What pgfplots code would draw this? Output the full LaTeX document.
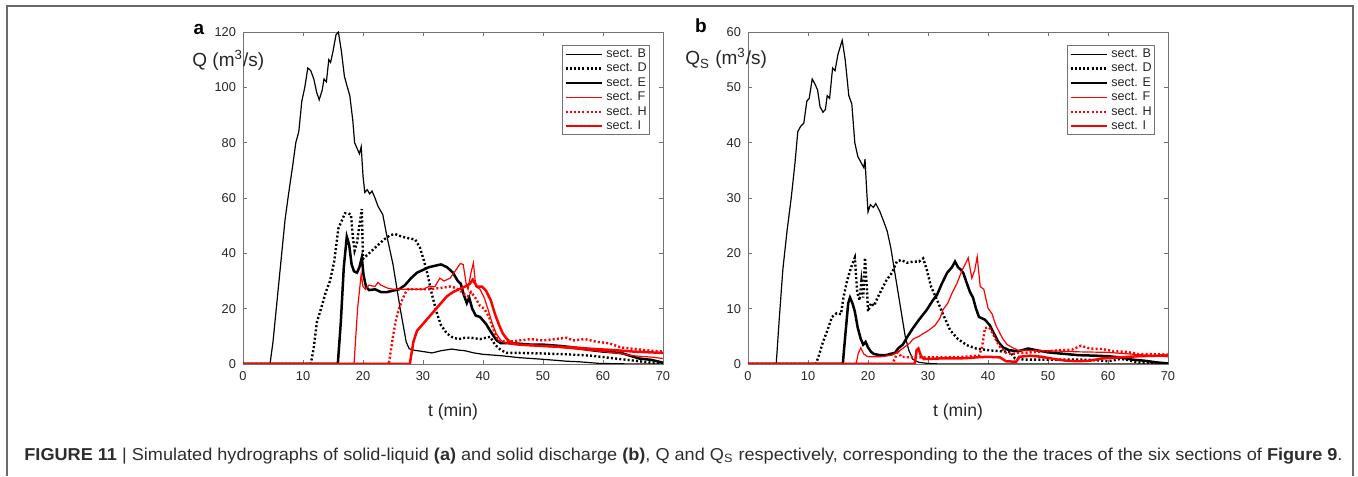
\documentclass[border=0pt]{standalone}
\usepackage{fontspec}
\setmainfont{Liberation Sans}
\usepackage{graphicx}
\usepackage{pgfplots}
\pgfplotsset{compat=1.18}
\definecolor{axgray}{RGB}{38,38,38}
\definecolor{framegray}{RGB}{105,105,105}
\definecolor{capgray}{RGB}{45,45,45}
\definecolor{mred}{RGB}{255,0,0}

\pgfplotsset{
  hydro/.style={
    scale only axis, width=210pt, height=166pt,
    xmin=0, xmax=70, ymin=0,
    xtick={0,10,...,70},
    tick align=inside,
    axis line style={draw=black!55, line width=0.45pt},
    tick style={draw=black!55, line width=0.45pt},
    major tick length=2.2pt,
    tick label style={font=\fontsize{6.4}{7}\selectfont, text=axgray},
    /pgf/number format/assume math mode=true,
    xlabel={t (min)},
    xlabel style={font=\fontsize{8.8}{10}\selectfont, text=axgray, at={(axis description cs:0.5,-0.145)}, anchor=center},
    legend style={at={(1,1)}, anchor=north east, xshift=-6.5pt, yshift=-6.5pt,
      draw=black!55, line width=0.45pt, fill=white,
      font=\fontsize{6.3}{6.8}\selectfont, text=axgray,
      inner sep=0.8pt, row sep=0.1pt,
      nodes={inner sep=0.6pt, text height=4.6pt, text depth=1.3pt}},
    legend cell align=left,
    legend image code/.code={\draw[##1] (0pt,0pt) -- (18pt,0pt); \path (19.2pt,0pt);},
  },
  sB/.style={black, line width=0.6pt},
  sD/.style={black, line width=1.2pt, dash pattern=on 1pt off 1.1pt},
  sE/.style={black, line width=1.25pt},
  sF/.style={mred, line width=0.6pt},
  sH/.style={mred, line width=1.2pt, dash pattern=on 1pt off 1.1pt},
  sI/.style={mred, line width=1.25pt},
}

\begin{document}
\begin{tikzpicture}
\begin{scope}[x=0.5pt,y=0.5pt]
\path[use as bounding box] (0,0) rectangle (1358,476);
\draw[framegray, line width=0.7pt] (7,0) -- (7,470) -- (1353,470) -- (1353,0);
\end{scope}

% ---------------- panel a ----------------
\begin{axis}[hydro, at={(121.5pt,56pt)}, anchor=south west, ymax=120, ytick={0,20,...,120}]
\addplot[sB] coordinates {(0,0) (4.5,0) (5,8) (6,30) (7,52) (7.5,60) (8.3,72) (8.8,80) (9.3,84) (9.8,95) (10.3,100) (10.8,107) (11.3,106) (11.8,103) (12.3,98) (12.7,95.5) (13.2,99) (13.5,103) (13.9,102) (14.3,110) (14.6,109) (15.0,113) (15.5,119) (15.9,120) (16.4,113) (16.9,104) (17.4,100) (17.8,97) (18.3,88) (18.6,80) (19.1,77.5) (19.4,76) (19.7,78.5) (20.0,68) (20.3,62) (20.7,63) (21.1,61.5) (21.5,62.5) (22.0,60) (22.5,57) (23.3,54) (24.0,46) (24.6,40) (25.0,36) (25.6,28) (26.2,20) (26.7,14) (27.2,8) (27.7,5.5) (28.5,5) (30,4.5) (31.5,4) (33,4.8) (34.8,5.4) (36,5) (37,4.8) (38.5,4) (40,3.5) (43,3) (46,2.3) (50,1.7) (54,1) (56,0.8) (59.5,0.2) (65,0) (70,0)};
\addlegendentry{sect. B}
\addplot[sD] coordinates {(0,0) (11.3,0) (11.8,6) (12.3,15) (13,20) (13.8,26) (14.5,30) (15.2,37) (15.9,49) (16.5,52) (17,54.5) (17.5,54.5) (18,54) (18.3,46) (18.6,41) (19,44) (19.4,50) (19.8,56) (20.0,38) (20.5,39) (21.5,41) (22.5,43) (23.5,45) (24.5,46.5) (25.3,47) (26.5,46) (27.5,45.5) (28.7,45) (29.5,42) (30.2,37) (30.8,32) (31.5,25) (32.3,18.5) (33,14) (34,11) (35,9.5) (36,9) (37,9.5) (38,9.5) (39.5,9) (40.5,9.5) (41.2,9.8) (42,7) (43,5) (44,4) (46,4) (50,3.8) (54,3.5) (58,3) (60,2.5) (62,2) (64,1.5) (66,1) (68,0.5) (70,0.2)};
\addlegendentry{sect. D}
\addplot[sE] coordinates {(0,0) (15.8,0) (16.3,15) (16.8,35) (17.3,46) (17.7,43) (18.1,36) (18.5,33.5) (19.0,33) (19.4,35) (19.8,38.5) (20.1,32) (20.5,28) (21,26.7) (22,27) (23,26) (24,26) (25,26.5) (26,27) (27,28.5) (28,31) (29,33) (30,34) (31,35) (32,35.5) (33,36) (34,35) (35,33) (35.8,30) (36.3,29) (36.8,25) (37.3,22) (37.7,24) (38.2,20) (38.8,17.5) (39.5,17) (40.5,14.5) (41.2,12) (41.8,10) (42.3,8.5) (43,7.5) (45,7.5) (48,7) (50,7) (53,6.5) (55,6) (58,5) (60,4.5) (63,4) (64.5,3) (66,2) (68,1.5) (70,0.5)};
\addlegendentry{sect. E}
\addplot[sF] coordinates {(0,0) (18.5,0) (19.1,20) (19.7,32.5) (20.0,28) (20.4,27) (21,28.5) (22,28) (22.5,29.5) (23,28.5) (24,27.5) (25,27) (26,27) (27,27) (28,27) (29,27) (30,27) (31,28) (32,28) (32.8,31) (33.5,30) (34.5,31) (35.5,34) (36.2,36.3) (36.7,36) (37.2,29) (37.5,27) (38,33) (38.4,36.5) (38.8,28) (39.5,27) (40.2,24) (40.8,20) (41.5,15) (42.2,11) (43,8.5) (43.8,7.5) (45,7) (50,6.5) (55,5.5) (60,4.5) (62,4) (65,3) (68,2.5) (70,2)};
\addlegendentry{sect. F}
\addplot[sH] coordinates {(0,0) (24.3,0) (25,10) (25.5,16) (26,20) (26.5,23) (27,25.5) (27.5,27) (29,27) (31,27) (33,27.5) (34.5,28) (35.5,27.5) (36.5,26) (37,25) (37.5,24.5) (38,26) (38.7,24) (39.5,21) (40.2,20) (41,17) (41.8,12) (42.5,8.5) (44,8) (46,8.5) (48,9) (50,8.5) (52,9) (54,9.5) (55,8.5) (57,9) (59,8) (61,7.5) (63,6) (65,5.5) (67,5) (70,4.5)};
\addlegendentry{sect. H}
\addplot[sI] coordinates {(0,0) (27.8,0) (28.4,8) (29,12) (30,14.5) (31,17) (32,19.5) (33,22) (34,24.5) (35,26) (36,27) (37,28) (37.8,29) (38.3,30.5) (39,28) (39.8,28) (40.5,26.5) (41.3,23) (42,18) (42.7,14) (43.3,11) (44,9) (44.8,7.5) (46,7) (50,6.5) (55,6) (58,5.5) (62,5) (65,4.5) (68,4.2) (70,4)};
\addlegendentry{sect. I}
\end{axis}

% ---------------- panel b ----------------
\begin{axis}[hydro, at={(374pt,56pt)}, anchor=south west, ymax=60, ytick={0,10,...,60}]
\addplot[sB] coordinates {(0,0) (4.7,0) (5.2,8) (5.8,17) (6.5,24) (7.2,30) (7.8,36) (8.3,42) (8.8,43) (9.3,43.5) (9.8,47.5) (10.2,48) (10.7,51.5) (11.2,50.5) (11.6,49.5) (12.0,46.5) (12.5,45.5) (12.9,46) (13.2,48.5) (13.6,48) (14.1,53.5) (14.5,53) (15.0,56) (15.7,58.5) (16.2,55) (16.8,48.5) (17.3,47) (17.8,40) (18.3,37.5) (18.8,36.5) (19.3,35.5) (19.5,37) (19.8,31) (20.0,27.5) (20.4,28.8) (20.9,28.3) (21.3,29) (22,27.5) (22.7,25.5) (23.2,24) (23.8,21) (24.4,17) (25.0,13) (25.6,9) (26.2,5) (26.8,2.5) (27.5,0.8) (28.5,0.3) (30,0.1) (32,0) (70,0)};
\addlegendentry{sect. B}
\addplot[sD] coordinates {(0,0) (11.3,0) (11.8,1.5) (12.5,4) (13.2,6) (14,8.5) (14.8,9.2) (15.5,9) (15.9,12) (16.5,15) (17.2,17.5) (17.8,19.2) (18.2,13) (18.6,11.5) (18.9,15) (19.2,12) (19.5,19.2) (19.8,14) (20.0,9.5) (20.5,11) (21,10.5) (21.6,12) (22.3,13.5) (23,15) (24,16.5) (24.8,18.5) (25.5,18.8) (26.5,18.3) (27.5,18.5) (28.5,18.5) (29.2,19.1) (29.8,17) (30.5,14) (31.5,11.6) (32.5,9) (33.7,6.1) (35,4.5) (36.5,3.4) (38,2.8) (40,2.5) (42,2.3) (43.7,2.2) (44.5,1) (46,0.8) (50,0.8) (55,0.8) (58,0.7) (60,0.5) (62,0.9) (63,0.8) (65,0.3) (67,0.1) (70,0)};
\addlegendentry{sect. D}
\addplot[sE] coordinates {(0,0) (15.8,0) (16.2,5) (16.7,11) (17,12) (17.4,11) (17.8,9.5) (18.3,6.5) (18.8,4.5) (19.2,3.5) (19.6,4) (20,3) (20.5,2.2) (21,1.8) (22,1.6) (23,1.6) (24,1.9) (24.5,2) (25,2.8) (25.8,3.5) (26.5,4.8) (27.5,6.5) (28.5,8) (29.8,9.8) (30.8,11.5) (31.5,12.5) (32.3,14.5) (33.2,16.5) (34,17.5) (34.5,18.5) (35,17.5) (35.5,17) (35.9,16.4) (36.5,14.5) (37,13) (37.5,12) (38,10) (38.5,8.5) (39.5,8) (40.3,7) (41,5.5) (41.7,4) (42.5,3) (43.5,2.5) (45,2.3) (46.7,2.8) (48,2.5) (50,2.1) (53,1.8) (55,1.6) (58,1.5) (60,1.4) (62,1.2) (64,0.8) (66,0.6) (68,0.3) (70,0.1)};
\addlegendentry{sect. E}
\addplot[sF] coordinates {(0,0) (18,0) (18.4,2) (18.8,2.9) (19.3,1.8) (20,1.3) (22,1.3) (24,1.6) (25,2.2) (26,3) (27,3.8) (27.5,4.5) (28.5,5) (29.2,5.5) (30,6) (31.2,7) (32,8.3) (32.5,9.8) (33.3,11) (34,12.8) (34.8,14.5) (35.7,17) (36.2,18) (36.7,19.2) (37.3,15.5) (37.8,17) (38.2,19.4) (38.7,14) (39.3,13.5) (40,10.1) (40.7,9) (41.3,7) (42,5.5) (42.5,4.5) (43.2,3.5) (44.2,2.9) (45,2.5) (50,2.4) (55,2.2) (60,2.1) (65,1.7) (68,1.5) (70,1.3)};
\addlegendentry{sect. F}
\addplot[sH] coordinates {(0,0) (24,0) (24.5,1) (25,2.5) (25.5,1.3) (27,1.2) (30,1.2) (33,1.2) (36,1.3) (38,1.5) (38.5,1.5) (39,3) (39.5,6.5) (40.2,6.6) (40.8,5.5) (41.5,4) (42,3.1) (43,2) (44,1.8) (45,2) (46,2) (48,2.2) (50,2.3) (52,2.5) (54,2.6) (55.5,3.3) (57,2.8) (59,2.7) (61,2.3) (63,2.2) (65,1.8) (67,1.8) (70,1.7)};
\addlegendentry{sect. H}
\addplot[sI] coordinates {(0,0) (27.8,0) (28.1,2.5) (28.4,2.8) (28.8,1.5) (29.3,0.9) (32,1) (35,1) (37,1.1) (38,1.2) (40,1.3) (42,1.2) (43,0.5) (44.7,0.4) (45.2,1.3) (47,1.5) (49,1.3) (51,0.9) (53,0.6) (55,0.5) (57,0.6) (59,1) (62,1.2) (65,1.4) (68,1.5) (70,1.6)};
\addlegendentry{sect. I}
\end{axis}

\begin{scope}[x=0.5pt,y=0.5pt]
\node[font=\fontsize{9.5}{10}\selectfont\bfseries, text=black, anchor=base] at (199,441) {a};
\node[font=\fontsize{9.5}{10}\selectfont\bfseries, text=black, anchor=base] at (701,443) {b};
\node[font=\fontsize{9.5}{10}\selectfont, text=axgray, anchor=base west, inner sep=0pt] at (192,409) {Q (m\textsuperscript{3}/s)};
\node[font=\fontsize{9.5}{10}\selectfont, text=axgray, anchor=base west, inner sep=0pt] at (685,411) {Q\textsubscript{S} (m\textsuperscript{3}/s)};
\node[font=\fontsize{8.6}{9}\selectfont, text=capgray, anchor=base west, inner sep=0pt] at (24,16) {\resizebox{659pt}{\height}{\textbf{FIGURE 11} | Simulated hydrographs of solid-liquid \textbf{(a)} and solid discharge \textbf{(b)}, Q and Q\textsubscript{S} respectively, corresponding to the the traces of the six sections of \textbf{Figure 9}.}};
\end{scope}
\end{tikzpicture}
\end{document}
